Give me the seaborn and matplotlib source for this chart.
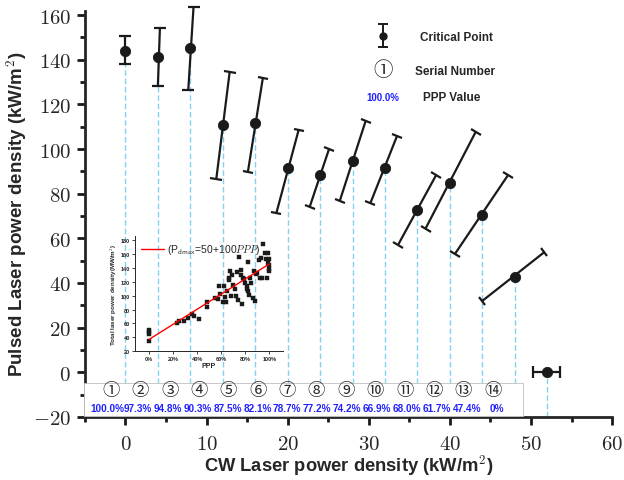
import numpy as np
import matplotlib
matplotlib.use('Agg')
import matplotlib.pyplot as plt
import seaborn as sns
from matplotlib.markers import MarkerStyle
from matplotlib.transforms import Affine2D
from matplotlib.patches import Rectangle
from matplotlib.ticker import FuncFormatter, MultipleLocator

# critical points (CW vs pulsed laser power density)
cw = [0, 4, 8, 12, 16, 20, 24, 28, 32, 36, 40, 44, 48, 52]
pulsed = [144.1, 141.1, 145.1, 110.9, 111.5, 91.3, 88.3, 94.8, 91.5, 72.6, 84.8, 70.5, 42.9, 0]
# ends of the (tilted) error bars
cw_lo = [0, 4.0, 7.75, 11.2, 15.1, 18.6, 22.7, 26.4, 30.2, 33.6, 37.0, 40.6, 44.0, 50.3]
pulsed_lo = [138.1, 128.1, 126.6, 86.5, 89.8, 71.2, 73.9, 76.5, 75.8, 57.0, 64.4, 52.9, 32.0, 0]
cw_hi = [0, 4.25, 8.4, 12.85, 16.95, 21.35, 25.1, 29.6, 33.5, 38.3, 43.2, 47.2, 51.6, 53.6]
pulsed_hi = [150.4, 154.1, 163.8, 134.5, 132.0, 108.5, 100.0, 112.4, 106.0, 88.3, 107.8, 88.5, 53.7, 0]

serials = ['①', '②', '③', '④', '⑤', '⑥', '⑦', '⑧', '⑨', '⑩', '⑪', '⑫', '⑬', '⑭']
ppp_labels = ['100.0%', '97.3%', '94.8%', '90.3%', '87.5%', '82.1%', '78.7%',
              '77.2%', '74.2%', '66.9%', '68.0%', '61.7%', '47.4%', '0%']

# inset: total laser power density vs PPP
inset_ppp = [0, 0, 0, 0, 0.23, 0.25, 0.29, 0.32, 0.36, 0.37, 0.41, 0.48, 0.48,
             0.55, 0.57, 0.58, 0.59, 0.61, 0.62, 0.63, 0.64, 0.65, 0.66, 0.66, 0.67,
             0.68, 0.69, 0.70, 0.71, 0.72, 0.73, 0.74, 0.75, 0.76, 0.76, 0.77, 0.78,
             0.79, 0.80, 0.81, 0.81, 0.82, 0.82, 0.83, 0.84, 0.85, 0.86, 0.87, 0.88,
             0.89, 0.90, 0.91, 0.92, 0.93, 0.94, 0.95, 0.96, 0.97, 0.98, 0.99, 0.99,
             1.0, 1.0, 1.0, 1.0]
inset_total = [51, 48, 45, 35, 60, 63.7, 63.7, 67.5, 73, 71, 66, 91.5, 84,
               96, 95, 113.7, 103, 91.5, 114.6, 98, 91, 107, 126, 123, 135,
               100, 130, 115.6, 110, 99, 134, 93.5, 156, 130, 137.7, 88.7, 126,
               123.7, 119, 113.7, 110, 107, 148, 101, 126, 118.5, 97, 135.6, 92.5,
               131, 133, 151, 125, 155, 126, 174, 162, 153.5, 126, 162, 147,
               152.6, 144, 138, 135]
fit_ppp = [0, 1.0]
fit_total = [37, 146]

sns.set_theme(style='ticks')
plt.rcParams['font.family'] = ['Liberation Sans', 'Noto Sans CJK SC', 'DejaVu Sans']
plt.rcParams['mathtext.fontset'] = 'cm'

fig = plt.figure(figsize=(6.24, 4.81), dpi=100)
ax = fig.add_axes([0.136, 0.131, 0.845, 0.845])
ax.set_xlim(-5, 60)
ax.set_ylim(-20, 162)

# dashed guide lines
ax.vlines(cw, -20, pulsed, colors='#86d0f2', linestyles=(0, (4, 2)), lw=1, zorder=1)

# white band holding the labels
ax.add_patch(Rectangle((-5.15, -19.4), 54.2, 14.4, facecolor='white',
                       edgecolor='#c0c0c0', lw=0.6, zorder=2.6, clip_on=False))

# tilted error bars with perpendicular caps
for i in range(len(cw)):
    ax.plot([cw_lo[i], cw_hi[i]], [pulsed_lo[i], pulsed_hi[i]], color='k', lw=1.6,
            zorder=4, clip_on=False, solid_capstyle='butt')
    p0 = ax.transData.transform((cw_lo[i], pulsed_lo[i]))
    p1 = ax.transData.transform((cw_hi[i], pulsed_hi[i]))
    ang = np.degrees(np.arctan2(p1[1] - p0[1], p1[0] - p0[0]))
    cap = MarkerStyle('_', transform=Affine2D().rotate_deg(ang + 90))
    ax.plot([cw_lo[i], cw_hi[i]], [pulsed_lo[i], pulsed_hi[i]], ls='none', marker=cap,
            ms=8, mew=1.6, color='k', zorder=4, clip_on=False)

sns.scatterplot(x=cw, y=pulsed, color='k', s=55, edgecolor='k', zorder=5, ax=ax,
                legend=False, clip_on=False)

# serial numbers and PPP values
for xs, s in zip(np.linspace(-1.8, 45.3, 14), serials):
    ax.text(xs, -7.9, s, ha='center', va='center', fontsize=12.5,
            family=['Noto Sans CJK SC', 'DejaVu Sans'], zorder=3)
for xs, s in zip(np.linspace(-2.2, 45.8, 14), ppp_labels):
    ax.text(xs, -15.8, s, ha='center', va='center', fontsize=7.2, fontweight='bold',
            color='#2020ff', zorder=3)

# hand-made legend
ax.plot([0.565, 0.565], [0.911, 0.967], color='k', lw=1.4, transform=ax.transAxes)
ax.plot([0.565, 0.565], [0.911, 0.967], ls='none', marker='_', ms=7, mew=1.4,
        color='k', transform=ax.transAxes)
ax.plot([0.565], [0.938], 'o', ms=5, color='k', transform=ax.transAxes)
ax.text(0.636, 0.936, 'Critical Point', transform=ax.transAxes, fontsize=8.5,
        fontweight='bold', va='center')
ax.text(0.565, 0.854, '①', transform=ax.transAxes, fontsize=14, ha='center', va='center',
        family=['Noto Sans CJK SC', 'DejaVu Sans'])
ax.text(0.626, 0.852, 'Serial Number', transform=ax.transAxes, fontsize=8.5,
        fontweight='bold', va='center')
ax.text(0.565, 0.788, '100.0%', transform=ax.transAxes, fontsize=7, fontweight='bold',
        color='#2020ff', ha='center', va='center')
ax.text(0.641, 0.788, 'PPP Value', transform=ax.transAxes, fontsize=8.5,
        fontweight='bold', va='center')

sns.despine(ax=ax)
for sp in ['left', 'bottom']:
    ax.spines[sp].set_linewidth(2)
ax.xaxis.set_major_locator(MultipleLocator(10))
ax.xaxis.set_minor_locator(MultipleLocator(5))
ax.yaxis.set_major_locator(MultipleLocator(20))
ax.yaxis.set_minor_locator(MultipleLocator(10))
fmt = FuncFormatter(lambda v, p: f'${v:.0f}$')
ax.xaxis.set_major_formatter(fmt)
ax.yaxis.set_major_formatter(fmt)
ax.tick_params(which='major', length=6, width=2, labelsize=15, color='k')
ax.tick_params(axis='x', which='major', pad=6)
ax.tick_params(axis='y', which='major', pad=4)
ax.tick_params(which='minor', length=3.5, width=2, color='k')
ax.set_xlabel('CW Laser power density (kW/m$^{\\mathsf{2}}$)', fontsize=13.2,
              fontweight='bold', labelpad=0)
ax.set_ylabel('Pulsed Laser power density (kW/m$^{\\mathsf{2}}$)', fontsize=13.5,
              fontweight='bold', labelpad=3)

# inset
axin = fig.add_axes([0.216, 0.268, 0.237, 0.239])
axin.set_facecolor('none')
sns.lineplot(x=fit_ppp, y=fit_total, color='red', lw=1, ax=axin,
             label='(P$_{\\mathsf{dmax}}$=50+100$\\it{PPP}$)')
sns.scatterplot(x=inset_ppp, y=inset_total, marker='s', s=10, color='k', edgecolor='k',
                linewidth=0.3, ax=axin, legend=False)
axin.set_xlim(-0.12, 1.11)
axin.set_ylim(20, 186)
axin.xaxis.set_major_locator(MultipleLocator(0.2))
axin.xaxis.set_major_formatter(FuncFormatter(lambda v, p: f'{v * 100:.0f}%'))
axin.yaxis.set_major_locator(MultipleLocator(20))
axin.tick_params(length=2, width=0.6, labelsize=4, pad=1.5)
for lab in axin.get_xticklabels() + axin.get_yticklabels():
    lab.set_fontweight('bold')
axin.set_xlabel('PPP', fontsize=5, fontweight='bold', labelpad=0.5)
axin.set_ylabel('Total laser power density(MW/m$^{\\mathsf{2}}$)', fontsize=4.5,
                fontweight='bold', labelpad=1)
sns.despine(ax=axin)
for sp in ['left', 'bottom']:
    axin.spines[sp].set_linewidth(0.7)
axin.legend(loc='upper left', frameon=False, fontsize=7.5, handlelength=2.2,
            borderaxespad=0.2, handletextpad=0.3)

fig.savefig('out.png', dpi=100)
